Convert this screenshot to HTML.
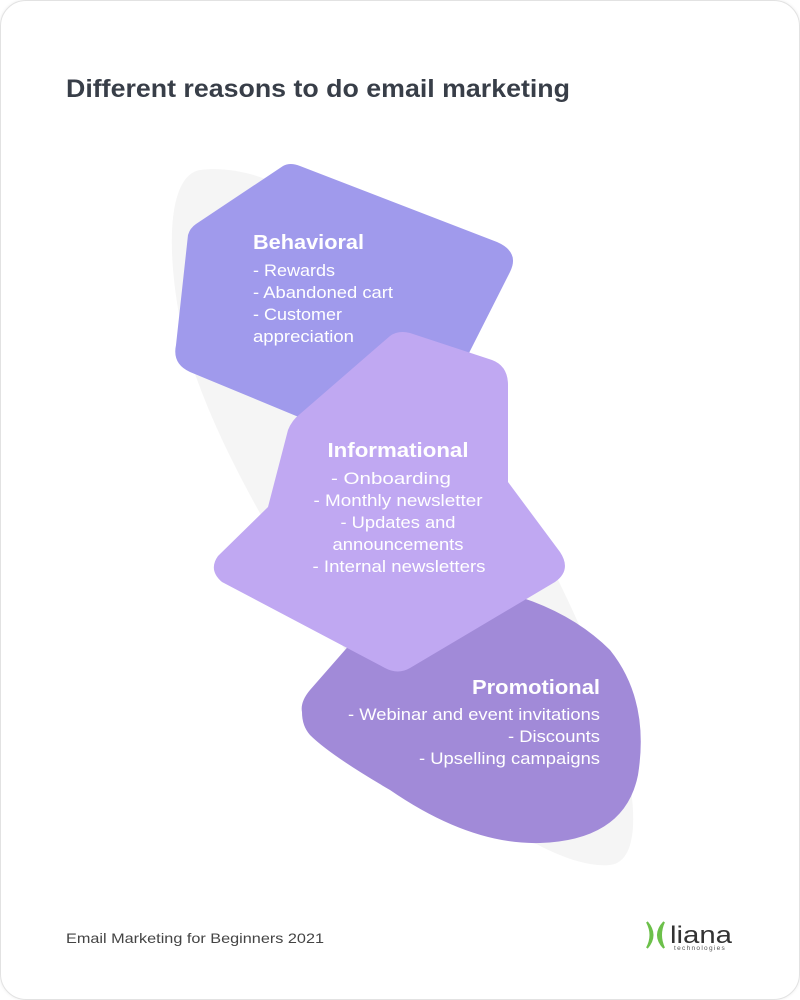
<!DOCTYPE html>
<html><head><meta charset="utf-8"><style>
html,body{margin:0;padding:0;background:#fff;}
body{width:800px;height:1000px;position:relative;overflow:hidden;font-family:"Liberation Sans",sans-serif;}
.card{position:absolute;left:0;top:0;width:798px;height:998px;border:1px solid #e2e2e2;border-radius:26px;box-shadow:0 0 3px rgba(0,0,0,0.08);}
svg{position:absolute;left:0;top:0;}
</style></head><body>
<div class="card"></div>
<svg width="800" height="1000" viewBox="0 0 800 1000">
<text x="66" y="97" font-family="Liberation Sans, sans-serif" font-weight="bold" font-size="25" fill="#383e48" textLength="504" lengthAdjust="spacingAndGlyphs">Different reasons to do email marketing</text>
<path d="M200 170 C170 175 165 240 180 320 C200 420 280 560 380 700 C460 810 560 870 610 865 C650 860 635 760 590 650 C540 530 440 360 360 250 C300 180 240 165 200 170 Z" fill="#f5f5f5"/>
<path d="M283 166 Q290 162 300 166 L497 242 Q520 252 510 272 L468 355 L330 430 L190 372 Q172 364 176 345 L188 235 Q190 228 196 224 Z" fill="#a09aec"/>
<path d="M302 712 Q300 702 310 690 L380 610 L470 585 Q560 600 610 650 Q650 700 638 775 Q625 840 540 843 Q470 845 390 790 Q330 755 310 735 Q302 726 302 712 Z" fill="#a18ad8"/>
<path d="M390 336 Q398 330 410 333 L492 360 Q508 366 508 385 L508 482 L560 552 Q572 570 555 582 L410 668 Q398 675 385 668 L222 582 Q208 570 218 556 L268 507 L288 430 Q292 420 300 414 Z" fill="#c0a8f2"/>
<g font-family="Liberation Sans, sans-serif" fill="#fff">
<text x="253" y="249" font-weight="bold" font-size="20" textLength="111" lengthAdjust="spacingAndGlyphs">Behavioral</text>
<g font-size="16.5"><text x="253" y="276" textLength="82" lengthAdjust="spacingAndGlyphs">- Rewards</text><text x="253" y="298" textLength="140" lengthAdjust="spacingAndGlyphs">- Abandoned cart</text><text x="253" y="320" textLength="89" lengthAdjust="spacingAndGlyphs">- Customer</text><text x="253" y="342" textLength="101" lengthAdjust="spacingAndGlyphs">appreciation</text></g>
<g text-anchor="middle"><text x="398" y="457" font-weight="bold" font-size="20" textLength="141" lengthAdjust="spacingAndGlyphs">Informational</text>
<g font-size="16.5"><text x="391" y="484" textLength="120" lengthAdjust="spacingAndGlyphs">- Onboarding</text><text x="398" y="506" textLength="169" lengthAdjust="spacingAndGlyphs">- Monthly newsletter</text><text x="398" y="528" textLength="115" lengthAdjust="spacingAndGlyphs">- Updates and</text><text x="398" y="550" textLength="131" lengthAdjust="spacingAndGlyphs">announcements</text><text x="399" y="572" textLength="173" lengthAdjust="spacingAndGlyphs">- Internal newsletters</text></g></g>
<g text-anchor="end"><text x="600" y="694" font-weight="bold" font-size="20" textLength="128" lengthAdjust="spacingAndGlyphs">Promotional</text>
<g font-size="16.5"><text x="600" y="720" textLength="252" lengthAdjust="spacingAndGlyphs">- Webinar and event invitations</text><text x="600" y="742" textLength="92" lengthAdjust="spacingAndGlyphs">- Discounts</text><text x="600" y="764" textLength="181" lengthAdjust="spacingAndGlyphs">- Upselling campaigns</text></g></g>
</g>
<text x="66" y="943" font-size="14" fill="#444" font-family="Liberation Sans, sans-serif" textLength="258" lengthAdjust="spacingAndGlyphs">Email Marketing for Beginners 2021</text>
<path d="M647 922 Q658 935 647 948 Q654 935 647 922Z" fill="#6cc04a" stroke="#6cc04a" stroke-width="2"/>
<path d="M664 922 Q652 935 664 948 Q658 935 664 922Z" fill="#6cc04a" stroke="#6cc04a" stroke-width="2"/>
<text x="670" y="943" font-size="24" fill="#333" font-family="Liberation Sans, sans-serif" textLength="62" lengthAdjust="spacingAndGlyphs">liana</text>
<text x="674" y="950" font-size="6.5" fill="#555" letter-spacing="1.3" font-family="Liberation Sans, sans-serif">technologies</text>
</svg>
</body></html>
